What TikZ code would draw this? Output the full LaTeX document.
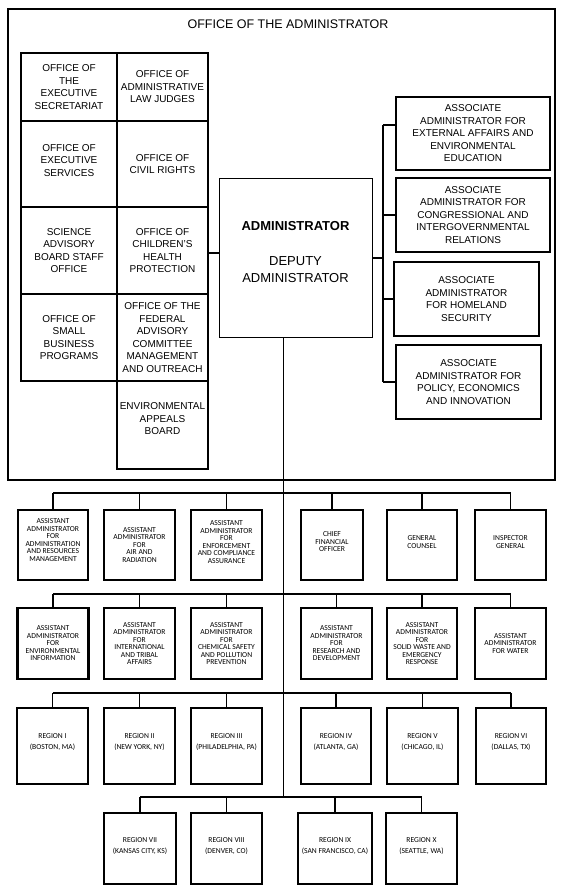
\documentclass[tikz,border=0pt]{standalone}
\usepackage{fontspec}
\setmainfont{Liberation Sans}
\newfontfamily\lowfont{Carlito}
\begin{document}
\begin{tikzpicture}[x=1pt,y=-1pt,
  lowbox/.style={draw, line width=2.4pt, inner sep=1pt, align=center, font=\lowfont\fontsize{7.6}{7.5}\selectfont},
  regbox/.style={draw, line width=2.4pt, inner sep=1pt, align=center, font=\lowfont\fontsize{7.6}{11}\selectfont},
  gridcell/.style={draw, line width=1.6pt, inner sep=1pt, align=center, font=\fontsize{10}{12.5}\selectfont},
  assoc/.style={draw, line width=1.2pt, inner sep=1pt, align=center, font=\fontsize{10}{12.5}\selectfont},
  bus/.style={line width=1.8pt},
  spine/.style={line width=1pt},
]
\useasboundingbox (0,0) rectangle (564,892);
% frame and title
\node[draw, line width=2pt, minimum width=547, minimum height=471, inner sep=0] (frame) at (281.5,244.5) {};
\node[font=\fontsize{12.5}{15}\selectfont] (title) at (288,24) {OFFICE OF THE ADMINISTRATOR};
% grid of offices
\node[gridcell, minimum width=96, minimum height=68] (g11) at (69,87) {OFFICE OF\\THE\\EXECUTIVE\\SECRETARIAT};
\node[gridcell, minimum width=91, minimum height=68] (g12) at (162.5,87) {OFFICE OF\\ADMINISTRATIVE\\LAW JUDGES};
\node[gridcell, minimum width=96, minimum height=86] (g21) at (69,164) {OFFICE OF\\EXECUTIVE\\SERVICES\\[-5pt]};
\node[gridcell, minimum width=91, minimum height=86] (g22) at (162.5,164) {OFFICE OF\\CIVIL RIGHTS};
\node[gridcell, minimum width=96, minimum height=87] (g31) at (69,250.5) {SCIENCE\\ADVISORY\\BOARD STAFF\\OFFICE};
\node[gridcell, minimum width=91, minimum height=87] (g32) at (162.5,250.5) {OFFICE OF\\CHILDREN'S\\HEALTH\\PROTECTION};
\node[gridcell, minimum width=96, minimum height=87] (g41) at (69,337.5) {OFFICE OF\\SMALL\\BUSINESS\\PROGRAMS};
\node[gridcell, minimum width=91, minimum height=87] (g42) at (162.5,337.5) {OFFICE OF THE\\FEDERAL\\ADVISORY\\COMMITTEE\\MANAGEMENT\\AND OUTREACH};
\node[gridcell, minimum width=91, minimum height=88] (g52) at (162.5,425) {ENVIRONMENTAL\\APPEALS\\BOARD\\[-0.5pt]};
% administrator
\node[draw, line width=1pt, minimum width=153, minimum height=159, inner sep=0] (admin) at (295.5,257.5) {};
\node[font=\fontsize{13}{17.7}\selectfont, align=center] (admintxt) at (295.5,252) {\textbf{ADMINISTRATOR}\\[17.3pt]DEPUTY\\ADMINISTRATOR};
% associates
\node[assoc, minimum width=154, minimum height=73] (as1) at (473,133.5) {ASSOCIATE\\ADMINISTRATOR FOR\\EXTERNAL AFFAIRS AND\\ENVIRONMENTAL\\EDUCATION};
\node[assoc, minimum width=154, minimum height=74] (as2) at (473,215) {ASSOCIATE\\ADMINISTRATOR FOR\\CONGRESSIONAL AND\\INTERGOVERNMENTAL\\RELATIONS};
\node[assoc, minimum width=145, minimum height=74] (as3) at (466.5,299) {ASSOCIATE\\ADMINISTRATOR\\FOR HOMELAND\\SECURITY};
\node[assoc, minimum width=145, minimum height=74] (as4) at (468.5,382) {ASSOCIATE\\ADMINISTRATOR FOR\\POLICY, ECONOMICS\\AND INNOVATION};
% connectors in the office
\coordinate (busR) at (383,125);
\draw[line width=2pt] (admin.east) -- (admin.east -| busR);
\draw[line width=2pt] (busR) -- (busR |- as4.west);
\draw[line width=2pt] (busR) -- (busR -| as1.west);
\draw[line width=2pt] (as2.west) -- (as2.west -| busR);
\draw[line width=2pt] (as3.west) -- (as3.west -| busR);
\draw[line width=2pt] (as4.west) -- (as4.west -| busR);
\draw[line width=1.8pt] ([yshift=4.5pt]admin.west) -- ([yshift=4.5pt]admin.west -| g32.east);
% spine
\coordinate (spineEnd) at (283,797);
\draw[spine] (admin.south -| spineEnd) -- (spineEnd);
% row 1
\node[lowbox, minimum width=70, minimum height=70] (a1) at (53,545) {ASSISTANT\\ADMINISTRATOR\\FOR\\ADMINISTRATION\\AND RESOURCES\\MANAGEMENT\\[2pt]};
\node[lowbox, minimum width=71, minimum height=70] (a2) at (139.5,545) {ASSISTANT\\ADMINISTRATOR\\FOR\\AIR AND\\RADIATION};
\node[lowbox, minimum width=71, minimum height=70] (a3) at (226.5,545) {ASSISTANT\\ADMINISTRATOR\\FOR\\ENFORCEMENT\\AND COMPLIANCE\\ASSURANCE\\[-1.5pt]};
\node[lowbox, minimum width=62, minimum height=70] (b1) at (332,545) {CHIEF\\FINANCIAL\\OFFICER\\[-1.5pt]};
\node[lowbox, minimum width=70, minimum height=70] (b2) at (422,545) {GENERAL\\COUNSEL\\[-1.5pt]};
\node[lowbox, minimum width=71, minimum height=70] (b3) at (510.5,545) {INSPECTOR\\GENERAL\\[-1.5pt]};
\coordinate (bus1) at (0,493);
\draw[bus] (a1.north |- bus1) -- (b3.north |- bus1);
\foreach \n in {a1,a2,a3,b1,b2,b3} \draw[bus] (\n.north) -- (\n.north |- bus1);
% row 2
\node[lowbox, minimum width=71, minimum height=71] (c1) at (53,643.5) {ASSISTANT\\ADMINISTRATOR\\FOR\\ENVIRONMENTAL\\INFORMATION};
\node[lowbox, minimum width=71, minimum height=71] (c2) at (139.5,643.5) {ASSISTANT\\ADMINISTRATOR\\FOR\\INTERNATIONAL\\AND TRIBAL\\AFFAIRS};
\node[lowbox, minimum width=71, minimum height=71] (c3) at (226.5,643.5) {ASSISTANT\\ADMINISTRATOR\\FOR\\CHEMICAL SAFETY\\AND POLLUTION\\PREVENTION};
\node[lowbox, minimum width=71, minimum height=71] (d1) at (336.5,643.5) {ASSISTANT\\ADMINISTRATOR\\FOR\\RESEARCH AND\\DEVELOPMENT};
\node[lowbox, minimum width=70, minimum height=71] (d2) at (422,643.5) {ASSISTANT\\ADMINISTRATOR\\FOR\\SOLID WASTE AND\\EMERGENCY\\RESPONSE};
\node[lowbox, minimum width=71, minimum height=71] (d3) at (510.5,643.5) {ASSISTANT\\ADMINISTRATOR\\FOR WATER};
\coordinate (bus2) at (0,594);
\draw[bus] (c1.north |- bus2) -- (d3.north |- bus2);
\foreach \n in {c1,c2,c3,d1,d2,d3} \draw[bus] (\n.north) -- (\n.north |- bus2);
% row 3
\node[regbox, minimum width=71, minimum height=76] (r1) at (52.5,746) {REGION I\\(BOSTON, MA)\\[-3pt]};
\node[regbox, minimum width=71, minimum height=76] (r2) at (139.5,746) {REGION II\\(NEW YORK, NY)\\[-3pt]};
\node[regbox, minimum width=71, minimum height=76] (r3) at (226.5,746) {REGION III\\(PHILADELPHIA, PA)\\[-3pt]};
\node[regbox, minimum width=70, minimum height=76] (r4) at (336,746) {REGION IV\\(ATLANTA, GA)\\[-3pt]};
\node[regbox, minimum width=71, minimum height=76] (r5) at (422.5,746) {REGION V\\(CHICAGO, IL)\\[-3pt]};
\node[regbox, minimum width=70, minimum height=76] (r6) at (511,746) {REGION VI\\(DALLAS, TX)\\[-3pt]};
\coordinate (bus3) at (0,693);
\draw[bus] (r1.north |- bus3) -- (r6.north |- bus3);
\foreach \n in {r1,r2,r3,r4,r5,r6} \draw[bus] (\n.north) -- (\n.north |- bus3);
% row 4
\node[regbox, minimum width=72, minimum height=71] (r7) at (140,848.5) {REGION VII\\(KANSAS CITY, KS)\\[-5pt]};
\node[regbox, minimum width=71, minimum height=71] (r8) at (226.5,848.5) {REGION VIII\\(DENVER, CO)\\[-5pt]};
\node[regbox, minimum width=74, minimum height=71] (r9) at (335,848.5) {REGION IX\\(SAN FRANCISCO, CA)\\[-5pt]};
\node[regbox, minimum width=71, minimum height=71] (r10) at (421.5,848.5) {REGION X\\(SEATTLE, WA)\\[-5pt]};
\coordinate (bus4) at (0,797);
\draw[bus] (r7.north |- bus4) -- (r10.north |- bus4);
\foreach \n in {r7,r8,r9,r10} \draw[bus] (\n.north) -- (\n.north |- bus4);
\end{tikzpicture}
\end{document}
